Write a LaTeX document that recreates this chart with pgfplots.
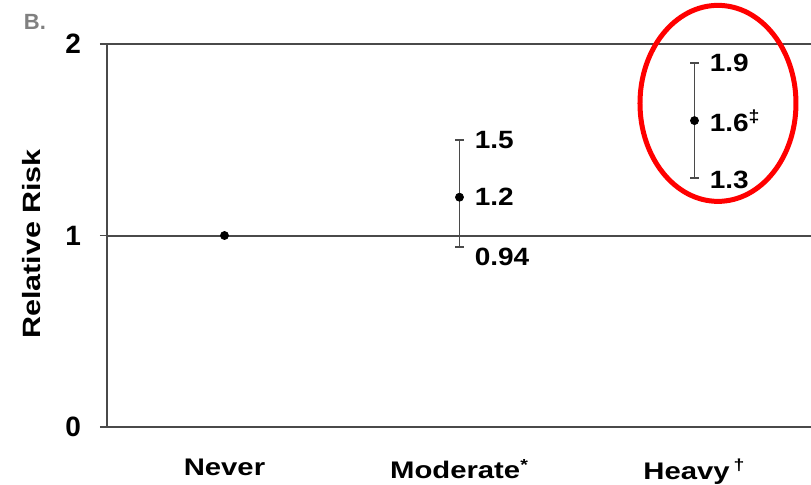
\documentclass[border=0pt]{standalone}
\usepackage{pgfplots}
\pgfplotsset{compat=1.18}
\usepackage{fontspec}
\setmainfont{Liberation Sans}
\newfontfamily\widefont[FakeStretch=1.22]{Liberation Sans}
\newfontfamily\numfont[FakeStretch=1.12]{Liberation Sans}
\definecolor{axgray}{HTML}{4A4A4A}
\begin{document}
\begin{tikzpicture}
\begin{axis}[
  at={(53.5pt,28.5pt)}, anchor=south west,
  scale only axis, width=352.5pt, height=191.5pt,
  xmin=-0.5, xmax=2.5, ymin=0, ymax=2,
  axis x line=bottom, axis y line=left,
  axis line style={-, line width=1pt, color=axgray},
  xtick={0,1,2},
  xticklabels={Never, Moderate\textsuperscript{*}, Heavy\,\textsuperscript{\dag}},
  xtick style={draw=none},
  minor xtick={0.5,1.5,2.5},
  minor tick length=9pt,
  every minor tick/.style={axgray, line width=0.8pt},
  ytick={0,1,2},
  ytick style={axgray, line width=0.8pt},
  major tick length=7pt,
  tick align=center,
  ymajorgrids, grid style={axgray, line width=1pt},
  yticklabel style={font=\bfseries\fontsize{14}{16}\selectfont, xshift=-6pt},
  xticklabel style={font=\widefont\bfseries\fontsize{12}{14}\selectfont, yshift=-9pt},
  /pgf/number format/assume math mode=true,
  clip=false,
]
\addplot[only marks, mark=*, mark size=2pt, color=black,
  error bars/.cd, y dir=both, y explicit,
  error bar style={axgray, line width=0.8pt},
  error mark options={rotate=90, mark size=2.2pt, axgray, line width=0.8pt}]
  table[x=x, y=y, y error plus=ep, y error minus=em] {
x y ep em
0 1.0 0 0
1 1.2 0.3 0.26
2 1.6 0.3 0.3
};
\begin{scope}[every node/.style={font=\numfont\bfseries\fontsize{12.5}{14}\selectfont, anchor=west}]
\node at (axis cs:1.035,1.5) {1.5};
\node at (axis cs:1.035,1.2) {1.2};
\node at (axis cs:1.035,0.89) {0.94};
\node at (axis cs:2.035,1.9) {1.9};
\node at (axis cs:2.035,1.6) {1.6\textsuperscript{\ddag}};
\node at (axis cs:2.035,1.29) {1.3};
\end{scope}
\draw[red, line width=2.5pt] (axis cs:2.1,1.69) ellipse [x radius=39pt, y radius=49pt];
\end{axis}
\node[rotate=90, font=\widefont\bfseries\fontsize{12.5}{14}\selectfont] at (16pt,120pt) {Relative Risk};
\node[font=\bfseries\fontsize{11}{12}\selectfont, text=black!50] at (17.5pt,231pt) {B.};
\pgfresetboundingbox
\path (0,0) rectangle (405.5pt,242pt);
\end{tikzpicture}
\end{document}
